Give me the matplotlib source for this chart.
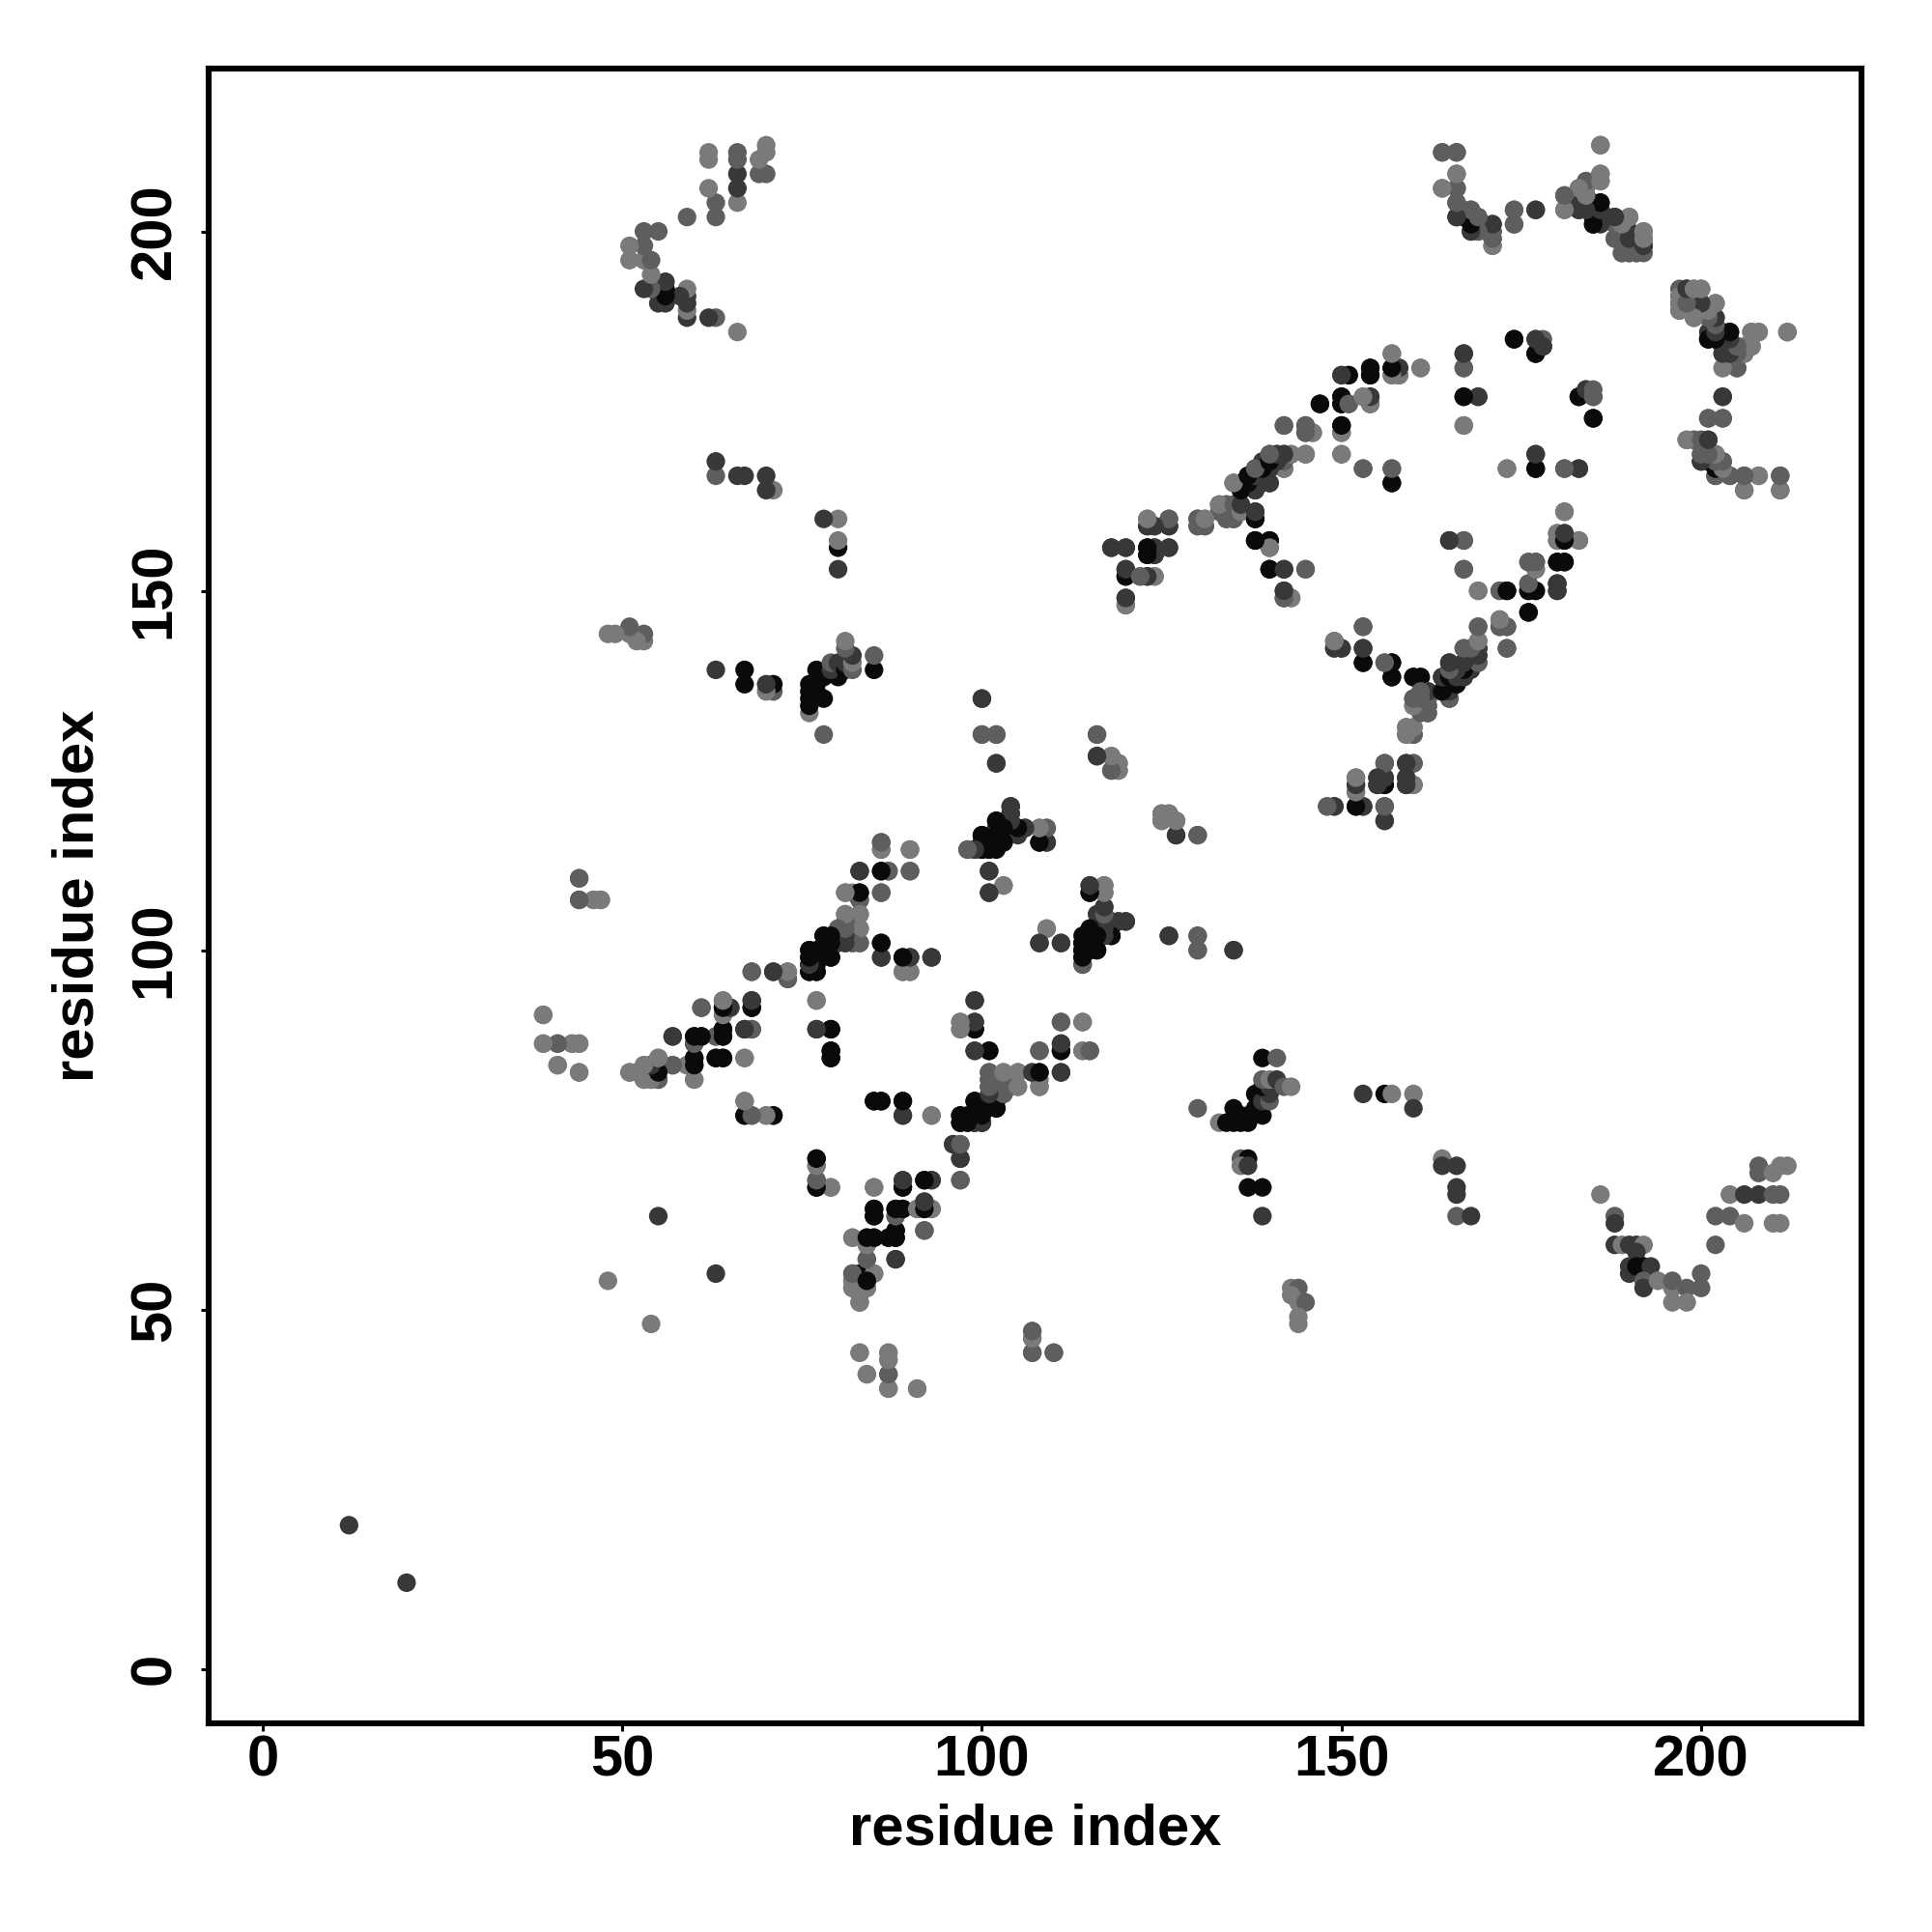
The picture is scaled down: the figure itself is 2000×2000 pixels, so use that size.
import numpy as np
import matplotlib
matplotlib.use("Agg")
import matplotlib.pyplot as plt

# contact pairs (residue i, residue j, strength 0..3), drawn in both triangles
far_left = [(12,20,2),(44,110,1),(44,107,1),(46,107,0),(47,107,1),(39,91,0),(39,87,0),(41,87,1),(43,87,0),(44,87,0),
    (41,84,0),(44,83,0),(48,54,0),(55,63,2)]
sheet_a = [(51,83,0),(52,83,0),(53,82,0),(53,84,0),(54,82,0),(55,82,1),(55,85,0),(54,84,3),(57,84,1),(59,84,0),
    (60,82,0),(60,85,3),(60,84,3),(61,92,1),(60,88,3),(60,87,3),(61,88,3),(57,88,2),(63,88,1),(64,89,3),(64,88,3),
    (64,93,0),(64,91,0),(64,92,3),(65,92,2),(67,89,3),(68,89,2),(68,93,2),(68,92,3),(63,85,3),(64,85,3),(67,85,0),
    (67,79,0),(67,77,3),(68,77,1),(70,77,0),(71,77,3),(68,97,1),(71,97,2),(73,96,2),(73,97,1)]
sheet_b = [(76,100,2),(76,99,2),(76,98,3),(76,97,3),(77,100,3),(77,98,3),(77,97,3),(78,102,3),(78,100,3),(79,99,3),
    (79,101,3),(80,103,1),(80,101,2),(81,101,1),(82,101,1),(83,101,1),(82,103,1),(83,103,0),(81,105,0),(83,105,0),
    (81,108,0),(82,108,0),(83,107,2),(83,108,3),(83,111,2),(86,111,3),(87,111,2),(86,108,1),(90,111,1),(86,114,0),
    (86,115,1),(90,114,0),(86,101,3),(86,99,2),(89,99,3),(90,99,2),(93,99,2),(89,97,0),(90,97,0),(77,93,0),(77,89,2),
    (79,89,3),(79,86,3),(79,85,3),(85,79,3),(86,79,3),(89,79,3),(89,77,2),(93,77,0)]
sheet_c = [(77,67,3),(77,71,3),(77,70,0),(77,68,1),(79,67,0),(85,67,0),(89,68,1),(89,67,2),(92,68,3),(93,68,2),
    (85,64,3),(85,63,3),(88,63,1),(88,64,3),(89,64,3),(91,64,0),(92,65,2),(92,64,3),(93,64,0),(92,61,1),(82,60,0),
    (84,59,0),(84,60,3),(85,60,3),(87,60,1),(88,60,3),(88,61,3),(84,57,1),(88,57,2),(82,55,1),(82,53,0),(82,54,0),
    (83,53,0),(83,55,3),(84,54,2),(84,53,0),(85,55,0),(83,51,0),(83,44,0),(87,44,0),(87,43,0),(84,41,0),(87,41,1),
    (87,39,0),(91,39,0),(107,47,0),(107,46,0),(107,44,1),(110,44,1)]
sheet_d = [(99,93,2),(97,90,0),(97,89,0),(99,90,2),(99,89,3),(99,86,2),(101,86,3),(111,90,1),(114,90,0),(108,86,1),
    (111,87,1),(111,86,3),(114,86,0),(115,86,1),(111,83,2),(107,83,1),(108,83,3),(108,81,0),(101,83,1),(103,83,0),
    (105,83,0),(101,82,1),(101,81,2),(102,81,2),(103,81,1),(104,81,1),(105,81,0),(103,80,1),(101,79,3),(102,79,3),
    (99,79,3),(100,78,3),(102,78,3),(97,77,3),(99,77,3),(97,76,3),(98,76,2),(99,76,3),(100,76,3),(96,73,1),(97,73,0),
    (97,71,2),(97,68,1)]
center = [(100,135,2),(100,130,1),(102,130,1),(102,126,2),(104,120,2),(104,119,2),(102,118,3),(102,117,2),(103,117,2),
    (105,117,1),(106,117,2),(108,117,0),(109,117,0),(108,115,3),(109,115,2),(100,116,3),(100,115,3),(101,115,3),(103,115,3),
    (102,116,3),(102,114,3),(98,114,1),(99,114,3),(100,114,3),(101,114,3),(101,111,2),(103,109,0),(101,108,2),(109,103,0),
    (108,101,2),(111,101,2),(115,109,2),(117,109,1),(115,108,3),(117,108,0),(117,106,2),(116,105,2),(117,105,3),(118,104,2),
    (119,104,2),(120,104,2),(115,103,3),(117,103,3),(118,102,3),(115,102,3),(116,102,3),(114,101,3),(114,100,3),(115,100,3),
    (116,100,3),(114,99,2),(114,98,1),(126,102,2),(130,102,1),(130,100,1),(135,100,2)]
cross_low = [(130,78,1),(133,76,0),(134,76,3),(135,76,3),(136,76,3),(137,76,3),(135,78,3),(136,77,3),(137,77,3),(138,78,3),
    (139,77,3),(138,80,3),(139,79,2),(140,79,1),(140,80,2),(139,81,3),(140,81,2),(139,82,1),(140,82,0),(141,82,2),(142,81,1),
    (143,81,0),(139,85,3),(141,85,1),(136,71,1),(137,71,3),(136,70,0),(137,70,2),(137,67,3),(139,67,3),(139,63,2),(153,80,2),
    (156,80,3),(157,80,0),(160,80,0),(160,78,2),(164,71,0),(164,70,2),(166,70,2),(166,67,2),(166,66,2),(166,63,1),(168,63,2),
    (143,53,0),(144,53,1),(143,52,0),(144,51,0),(145,51,1),(144,49,0),(144,48,0)]
cross_mid = [(116,130,1),(116,127,2),(118,127,0),(119,126,0),(118,125,0),(119,125,0),(125,119,0),(126,119,0),(125,118,1),
    (127,118,0),(127,116,2),(130,116,1),(148,120,0),(149,120,2),(152,120,3),(153,120,2),(152,124,0),(152,123,2),(152,122,1),
    (156,120,2),(156,118,2),(156,126,2),(155,124,2),(156,124,2),(155,123,3),(156,123,3),(159,126,2),(160,126,1),(159,124,2),
    (159,123,2),(160,123,0),(159,131,1),(159,130,1),(160,130,1),(160,131,0),(160,135,1),(160,134,1),(161,134,1),(162,134,1),
    (162,133,0),(162,135,1),(161,136,0),(162,136,2),(160,138,3),(161,138,2),(157,140,3),(156,140,0),(157,138,3),(153,140,3),
    (153,142,2),(153,145,1),(149,143,0),(149,142,1),(150,142,2)]
strand_up = [(164,138,2),(164,136,3),(165,137,3),(165,140,2),(165,135,0),(166,138,2),(166,137,3),(167,142,0),(167,140,2),
    (167,139,3),(167,138,1),(168,142,1),(168,141,2),(168,140,3),(169,145,0),(169,143,0),(169,142,2),(169,141,2),(169,140,1),
    (172,146,0),(172,145,1),(173,145,1),(173,142,1),(176,147,3),(169,150,0),(172,150,0),(173,150,3),(176,150,3),(177,150,3),
    (176,151,1),(180,151,3),(180,150,2),(176,154,0),(177,154,2),(177,153,0),(180,154,3),(181,154,3),(180,158,0),(181,158,2),
    (180,157,0),(181,157,3),(183,157,0),(181,161,0),(165,157,3),(167,157,1),(167,153,1),(138,157,3),(140,157,3),(140,156,1),
    (138,160,3),(138,161,3),(140,153,3),(142,153,2),(145,153,1),(142,150,2),(142,149,2),(143,149,0)]
strand_left = [(123,160,0),(126,160,1),(123,159,2),(124,159,2),(126,159,2),(130,160,1),(131,160,0),(130,159,0),(131,159,0),
    (118,156,2),(120,156,1),(123,156,3),(124,156,2),(126,156,1),(123,155,2),(124,155,2),(120,153,2),(120,152,3),(122,152,0),
    (123,152,2),(124,152,0),(120,149,2),(120,148,1)]
diagonal = [(133,162,1),(134,162,1),(136,162,2),(133,161,1),(134,160,0),(135,160,1),(135,161,1),(136,161,1),(135,165,1),
    (136,165,2),(137,166,3),(137,165,3),(136,164,3),(138,164,2),(138,167,2),(138,165,3),(138,166,2),(139,168,2),(139,167,3),
    (139,166,2),(139,165,1),(140,169,1),(140,167,2),(140,165,2),(141,169,2),(141,168,2),(142,169,2),(142,168,1),(142,167,1),
    (143,169,0),(145,169,1),(142,173,1),(145,173,1),(145,172,1),(146,172,0),(147,176,3),(150,177,3),(150,176,3),(151,176,1),
    (150,172,1),(150,173,3),(150,169,0),(150,180,2),(151,180,2),(154,181,3),(154,180,3),(153,177,0),(154,176,1),(154,177,1),
    (157,183,0),(157,180,0),(158,180,0),(157,181,3),(158,181,2),(161,181,0),(153,167,1),(157,167,1),(157,165,2)]
top_mid = [(167,183,2),(167,181,1),(167,177,3),(169,177,2),(167,173,0),(174,185,3),(177,183,3),(178,184,2),(177,185,1),
    (178,185,1),(173,167,0),(177,169,2),(177,167,3),(181,167,1),(183,167,2),(183,177,3),(184,178,2),(185,177,2),(185,174,3)]
top_left = [(164,211,0),(166,211,1),(166,208,0),(164,206,0),(166,206,1),(166,204,1),(166,202,1),(167,202,3),(167,203,0),
    (168,203,1),(168,202,1),(168,200,2),(169,202,0),(169,201,1),(169,200,1),(171,199,1),(171,198,0),(171,200,1),(171,201,2),
    (174,203,1),(174,201,1),(177,203,2)]
top_right = [(181,205,1),(181,203,0),(183,206,0),(184,207,0),(183,205,1),(183,204,2),(183,203,2),(184,205,1),(185,204,2),
    (186,208,0),(186,207,0),(186,212,0),(185,202,3),(185,201,3),(186,204,3),(186,202,2),(187,202,1),(188,202,2),(188,201,1),
    (189,201,0),(190,202,0),(190,200,2),(188,199,0),(189,197,0),(190,197,0),(191,197,0),(190,198,1),(192,198,2),(192,199,0),
    (192,200,0)]
corner_up = [(197,189,1),(197,190,1),(197,191,1),(197,192,1),(198,190,1),(198,192,2),(199,188,1),(199,190,2),(200,190,2),
    (199,192,0),(200,192,0),(201,189,0),(202,190,0),(202,188,2),(201,186,2),(201,185,3),(202,185,3),(203,186,2),(204,186,3),
    (203,184,2),(203,183,2),(204,183,2),(205,184,0),(206,184,0),(207,184,1),(207,186,0),(208,186,0),(206,183,0),(212,186,0),
    (203,181,0),(205,181,1),(203,177,2),(201,174,1),(203,174,1),(198,171,0),(199,171,1),(200,171,1),(201,171,2),(200,169,1),
    (200,168,2),(201,168,3),(202,169,1),(203,168,1),(202,166,2),(204,166,1),(206,166,1),(208,166,0),(206,164,0),(211,166,1),
    (211,164,1)]
corner_low = [(186,66,0),(188,63,1),(188,62,2),(188,59,2),(189,59,0),(190,59,2),(191,59,2),(192,59,0),(191,58,2),(190,56,2),
    (190,55,2),(191,56,3),(192,56,3),(193,56,2),(192,54,1),(192,53,2),(194,54,0),(196,53,0),(196,51,0),(196,54,1),(198,53,1),
    (198,51,0),(200,55,1),(200,53,1),(202,59,1),(202,63,1),(204,63,1),(206,62,0),(204,66,0),(206,66,2),(208,66,2),(210,66,1),
    (211,66,1),(210,62,0),(211,62,0),(208,70,1),(208,69,1),(210,69,0),(211,70,0),(212,70,0)]

tick_values = [0, 50, 100, 150, 200]
axis_label = "residue index"

groups = [far_left, sheet_a, sheet_b, sheet_c, sheet_d, center, cross_low, cross_mid,
          strand_up, strand_left, diagonal, top_mid, top_left, top_right, corner_up, corner_low]
contacts = np.array([c for g in groups for c in g], dtype=float)
greys = np.array([0.48, 0.37, 0.22, 0.04])  # strength 0 is the palest

plt.rcParams['font.family'] = ['Liberation Sans', 'DejaVu Sans']
plt.rcParams['font.weight'] = 'bold'

fig = plt.figure(figsize=(10, 10), dpi=200)
ax = fig.add_axes([215.7/2000, 1-1784/2000, (1927-215.7)/2000, (1784-71.4)/2000])

i, j, s = contacts.T
cols = np.repeat(greys[s.astype(int)], 3).reshape(-1, 3)
ax.scatter(np.r_[i, j], np.r_[j, i], s=48, c=np.r_[cols, cols], linewidths=0, zorder=3, clip_on=False)

ax.set_xlim(-7.56, 222.3)
ax.set_ylim(-7.57, 222.6)
ax.set_xticks(tick_values)
ax.set_yticks(tick_values)
ax.tick_params(axis='x', length=2.9, width=1.1, labelsize=21.5, pad=1.2)
ax.tick_params(axis='y', length=2.9, width=1.1, labelsize=21.5, pad=7)
for lab in ax.get_yticklabels():
    lab.set_rotation(90)
    lab.set_va('center')
for sp in ax.spines.values():
    sp.set_linewidth(2.2)

ax.set_xlabel(axis_label, fontsize=21.5, fontweight='bold', va='center')
ax.set_ylabel(axis_label, fontsize=21.5, fontweight='bold', va='center')
ax.xaxis.set_label_coords(0.5, -0.064)
ax.yaxis.set_label_coords(-0.0787, 0.5)

fig.savefig("out.png", dpi=200, facecolor='white')
